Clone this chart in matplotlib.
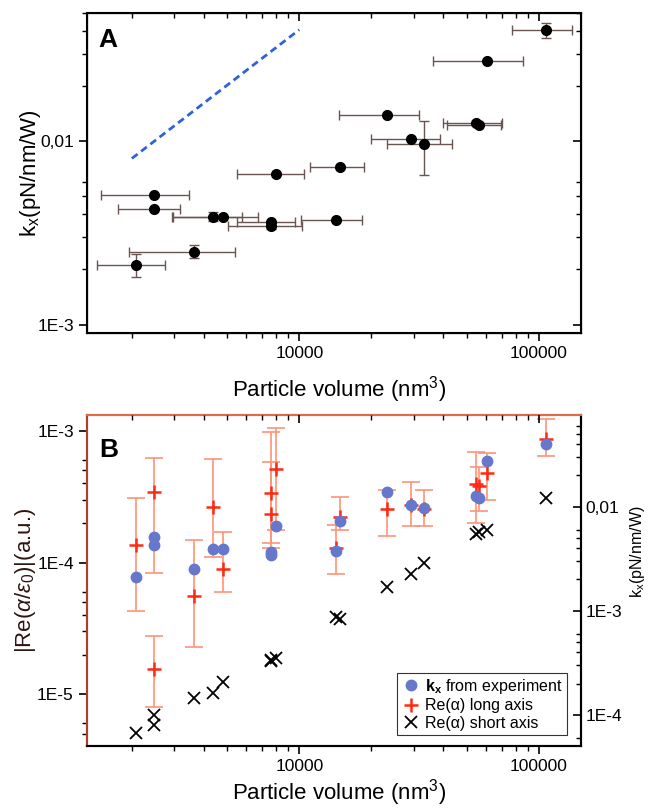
import numpy as np
import matplotlib
matplotlib.use("Agg")
import matplotlib.pyplot as plt
from matplotlib.ticker import LogLocator, NullFormatter

plt.rcParams['font.family'] = ['Liberation Sans', 'DejaVu Sans']
plt.rcParams['mathtext.fontset'] = 'custom'
plt.rcParams['mathtext.rm'] = 'Liberation Sans'
plt.rcParams['mathtext.it'] = 'Liberation Sans:italic'
plt.rcParams['mathtext.bf'] = 'Liberation Sans:bold'

# particle volume (nm^3) with its range
volume = [2090, 2480, 2480, 3650, 4370, 4810, 7640, 7640, 8020, 14260,
          14860, 23260, 29290, 33270, 54490, 56230, 60720, 107200]
volume_lo = [1430, 1480, 1750, 1940, 2930, 2960, 5520, 5060, 5520, 10190,
             11040, 14680, 20000, 23260, 39810, 41230, 36060, 77090]
volume_hi = [2740, 3480, 3190, 5410, 5790, 6750, 9620, 10290, 10490, 18300,
             18710, 31700, 38800, 43400, 70150, 69460, 85530, 138100]

# trap stiffness k_x (pN/nm/W)
kx = [0.00211, 0.00509, 0.00427, 0.00250, 0.00388, 0.00388, 0.00363, 0.00345, 0.00659,
      0.00371, 0.00722, 0.01390, 0.01029, 0.00967, 0.01253, 0.01222, 0.02720, 0.0402]
kx_lo = [0.00182, 0.00509, 0.00427, 0.00231, 0.00367, 0.00388, 0.00363, 0.00330, 0.00659,
         0.00371, 0.00722, 0.01390, 0.01029, 0.00653, 0.01253, 0.01222, 0.02720, 0.0367]
kx_hi = [0.00243, 0.00509, 0.00427, 0.00272, 0.00411, 0.00388, 0.00363, 0.00362, 0.00659,
         0.00371, 0.00722, 0.01390, 0.01029, 0.01290, 0.01253, 0.01222, 0.02720, 0.0443]

# dashed guide line in panel A
trend_v = [2000, 10000]
trend_k = [0.00805, 0.0405]

# Re(alpha) long axis with range, and short axis
re_long = [1.37e-4, 3.44e-4, 1.55e-5, 5.56e-5, 2.65e-4, 8.87e-5, 2.32e-4, 3.40e-4, 5.12e-4,
           1.30e-4, 2.22e-4, 2.54e-4, 2.73e-4, 2.57e-4, 3.94e-4, 3.80e-4, 4.80e-4, 8.65e-4]
re_long_lo = [4.30e-5, 8.26e-5, 8.02e-6, 2.27e-5, 1.105e-4, 5.93e-5, 1.40e-4, 1.29e-4, 1.76e-4,
              8.17e-5, 1.76e-4, 1.585e-4, 1.89e-4, 1.89e-4, 1.98e-4, 2.47e-4, 2.98e-4, 6.43e-4]
re_long_hi = [3.07e-4, 6.21e-4, 2.77e-5, 1.479e-4, 6.07e-4, 1.72e-4, 5.82e-4, 9.83e-4, 1.06e-3,
              1.92e-4, 3.15e-4, 3.55e-4, 4.06e-4, 3.55e-4, 6.93e-4, 5.33e-4, 6.74e-4, 1.24e-3]
re_short = [5.04e-6, 6.93e-6, 5.82e-6, 9.39e-6, 1.026e-5, 1.242e-5, 1.815e-5, 1.80e-5, 1.87e-5,
            3.87e-5, 3.72e-5, 6.53e-5, 8.12e-5, 9.85e-5, 1.66e-4, 1.71e-4, 1.78e-4, 3.07e-4]

x_ticks = [1e4, 1e5]
x_ticklabels = ['10000', '100000']
a_yticks = [1e-3, 1e-2]
a_yticklabels = ['1E-3', '0,01']
b_yticks = [1e-5, 1e-4, 1e-3]
b_yticklabels = ['1E-5', '1E-4', '1E-3']
b_rticks = [1e-4, 1e-3, 1e-2]
b_rticklabels = ['1E-4', '1E-3', '0,01']

XLIM = (1300, 150000)
TICK_FS = 12.5
LABEL_FS = 16


def asym(v, lo, hi):
    v, lo, hi = np.asarray(v), np.asarray(lo), np.asarray(hi)
    return np.vstack([v - lo, hi - v])


def log_axis(axis, ticks, labels, subs):
    axis.set_ticks(ticks, labels=labels)
    axis.set_minor_locator(LogLocator(base=10, subs=subs, numticks=30))
    axis.set_minor_formatter(NullFormatter())


def tick_style(ax, direction):
    ax.tick_params(which='major', length=6, width=1.2, direction=direction, labelsize=TICK_FS)
    ax.tick_params(which='minor', length=3.5, width=1.0, direction=direction)


fig = plt.figure(figsize=(6.48, 8.10), dpi=100)
ax_a = fig.add_axes([0.1343, 0.5889, 0.7623, 0.3951])
ax_b = fig.add_axes([0.1343, 0.0794, 0.7623, 0.4083])

# ---------------- panel A ----------------
ax_a.errorbar(volume, kx, xerr=asym(volume, volume_lo, volume_hi), yerr=asym(kx, kx_lo, kx_hi),
              fmt='o', ms=7, color='black', ecolor='#6a5550', elinewidth=1, capsize=3.5, capthick=1)
ax_a.plot(trend_v, trend_k, color='#2f62d8', lw=2, dashes=(2.6, 1.6))
ax_a.set_xscale('log')
ax_a.set_yscale('log')
ax_a.set_xlim(XLIM)
ax_a.set_ylim(9e-4, 0.05)
log_axis(ax_a.xaxis, x_ticks, x_ticklabels, np.arange(2, 10))
log_axis(ax_a.yaxis, a_yticks, a_yticklabels, [2, 3, 4, 5, 6])
tick_style(ax_a, 'out')
ax_a.set_xlabel('Particle volume (nm$^3$)', fontsize=LABEL_FS)
ax_a.xaxis.set_label_coords(0.51, -0.128)
ax_a.set_ylabel(r'k$_\mathrm{x}$(pN/nm/W)', fontsize=LABEL_FS)
ax_a.yaxis.set_label_coords(-0.09, 0.5)
ax_a.text(0.022, 0.953, 'A', transform=ax_a.transAxes, fontsize=19, fontweight='bold', va='top')
for s in ax_a.spines.values():
    s.set_linewidth(1.5)

top_a = ax_a.twiny()
top_a.set_xscale('log')
top_a.set_xlim(XLIM)
log_axis(top_a.xaxis, x_ticks, ['', ''], np.arange(2, 10))
tick_style(top_a, 'in')
top_a.tick_params(labeltop=False)
right_a = ax_a.twinx()
right_a.set_yscale('log')
right_a.set_ylim(ax_a.get_ylim())
log_axis(right_a.yaxis, a_yticks, ['', ''], [2, 3, 4, 5, 6])
tick_style(right_a, 'in')
right_a.tick_params(labelright=False)

# ---------------- panel B ----------------
ax_b.errorbar(volume, re_long, yerr=asym(re_long, re_long_lo, re_long_hi), fmt='none',
              ecolor='#ff9478', elinewidth=1.2, capsize=6.5, capthick=1.2)
h_long, = ax_b.plot(volume, re_long, '+', color='#ff2a14', ms=10, mew=1.8, label='Re(α) long axis')
h_short, = ax_b.plot(volume, re_short, 'x', color='black', ms=8.5, mew=1.3, label='Re(α) short axis')
ax_b.set_xscale('log')
ax_b.set_yscale('log')
ax_b.set_xlim(XLIM)
ax_b.set_ylim(4.07e-6, 1.32e-3)
log_axis(ax_b.xaxis, x_ticks, x_ticklabels, np.arange(2, 10))
log_axis(ax_b.yaxis, b_yticks, b_yticklabels, [2, 3, 4, 5, 6])
tick_style(ax_b, 'out')
ax_b.set_xlabel('Particle volume (nm$^3$)', fontsize=LABEL_FS)
ax_b.xaxis.set_label_coords(0.51, -0.096)
ax_b.set_ylabel(r'$\left|\mathrm{Re}(\alpha/\varepsilon_0)\right|$(a.u.)', fontsize=LABEL_FS, color='#2e1610')
ax_b.yaxis.set_label_coords(-0.1, 0.5)
ax_b.text(0.024, 0.931, 'B', transform=ax_b.transAxes, fontsize=19, fontweight='bold', va='top')
for s in ax_b.spines.values():
    s.set_linewidth(1.5)
ax_b.spines['left'].set_color('#a8402c')
ax_b.spines['top'].set_color('#e0694a')

ax_r = ax_b.twinx()
h_kx, = ax_r.plot(volume, kx, 'o', color='#6677cc', ms=7.5, label=r'$\mathbf{k}_\mathbf{x}$ from experiment')
ax_r.set_yscale('log')
ax_r.set_ylim(5.07e-5, 0.0759)
log_axis(ax_r.yaxis, b_rticks, b_rticklabels, [2, 3, 4, 5, 6])
tick_style(ax_r, 'in')
ax_r.set_ylabel(r'k$_\mathrm{x}$(pN/nm/W)', fontsize=11.5)
ax_r.yaxis.set_label_coords(1.095, 0.586)
for s in ax_r.spines.values():
    s.set_linewidth(1.5)
ax_r.spines['left'].set_color('#a8402c')
ax_r.spines['top'].set_color('#e0694a')

top_b = ax_b.twiny()
top_b.set_xscale('log')
top_b.set_xlim(XLIM)
log_axis(top_b.xaxis, x_ticks, ['', ''], np.arange(2, 10))
tick_style(top_b, 'in')
top_b.tick_params(labeltop=False)
for s in top_b.spines.values():
    s.set_visible(False)

leg = ax_r.legend(handles=[h_kx, h_long, h_short], loc='lower right',
                  bbox_to_anchor=(1 - 14 / 494, 11 / 330.7), borderaxespad=0,
                  fontsize=11.5, fancybox=False, framealpha=1, edgecolor='#333333',
                  handletextpad=0.3, borderpad=0.25, labelspacing=0.15, handlelength=1.2)
leg.get_frame().set_linewidth(0.8)

fig.savefig('out.png', dpi=100)
